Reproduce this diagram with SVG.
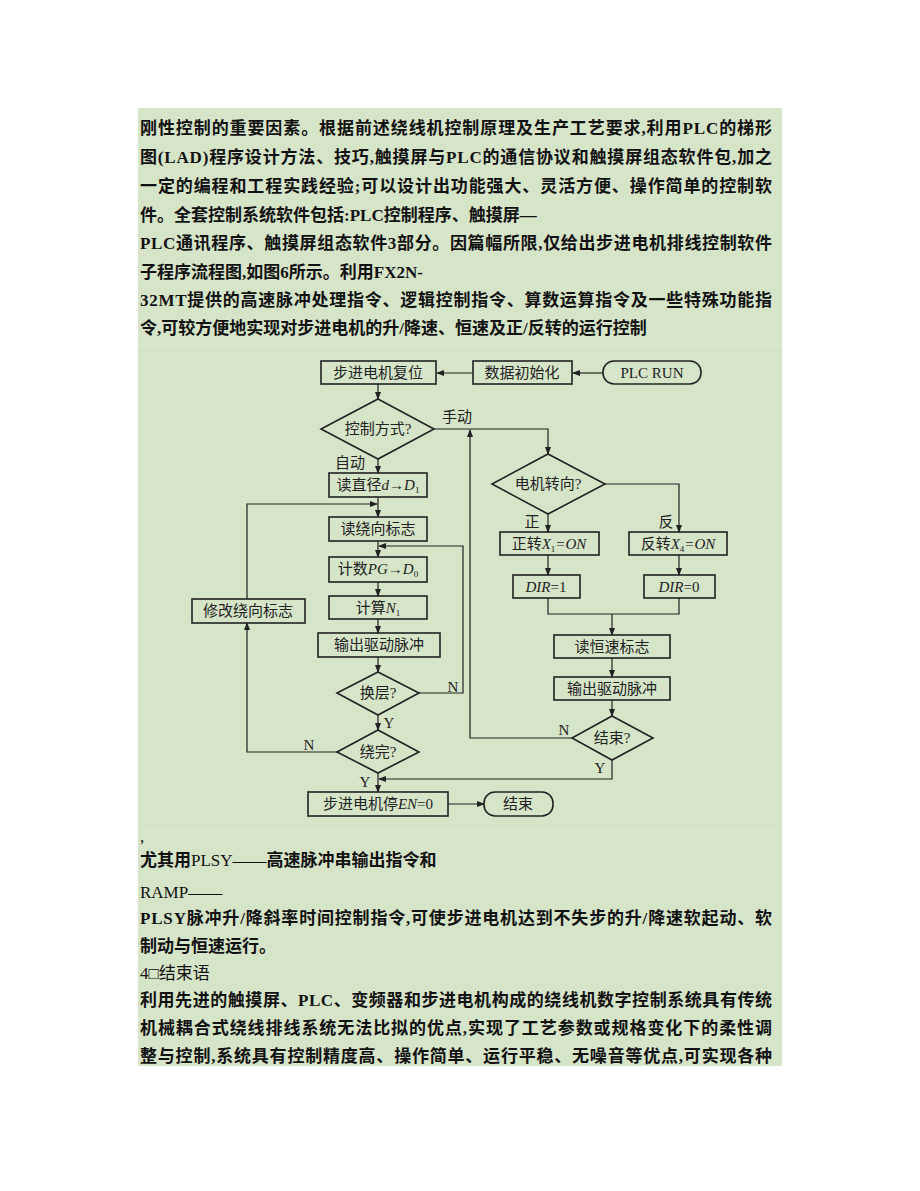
<svg xmlns="http://www.w3.org/2000/svg" width="920" height="1191" viewBox="0 0 920 1191">
<defs>
<marker id="ar" markerWidth="8" markerHeight="6" refX="7" refY="3" orient="auto" markerUnits="userSpaceOnUse"><path d="M0,0 L8,3 L0,6 Z" fill="#222"/></marker>
<style>
.p{font-family:"Liberation Serif","Noto Sans CJK SC",serif;font-size:17px;fill:#111;font-weight:bold}
.n{font-weight:normal}
.f{font-family:"Liberation Serif","Noto Sans CJK SC",serif;font-size:15px;fill:#222;text-anchor:middle}
.b{fill:none;stroke:#222;stroke-width:1.6}
.c{fill:none;stroke:#222;stroke-width:1.2}
</style>
</defs>
<rect width="920" height="1191" fill="#fff"/>
<rect x="138" y="108" width="644" height="958" fill="#d6e4c8"/>
<line x1="138" y1="345" x2="782" y2="345" stroke="#e0ead6"/>
<line x1="138" y1="830" x2="782" y2="830" stroke="#e0ead6"/>
<g id="text-top">
<text class="p" x="140" y="134" textLength="632">刚性控制的重要因素。根据前述绕线机控制原理及生产工艺要求,利用PLC的梯形</text>
<text class="p" x="140" y="163" textLength="632">图(LAD)程序设计方法、技巧,触摸屏与PLC的通信协议和触摸屏组态软件包,加之</text>
<text class="p" x="140" y="192" textLength="632">一定的编程和工程实践经验;可以设计出功能强大、灵活方便、操作简单的控制软</text>
<text class="p" x="140" y="221">件。全套控制系统软件包括:PLC控制程序、触摸屏—</text>
<text class="p" x="140" y="249" textLength="632">PLC通讯程序、触摸屏组态软件3部分。因篇幅所限,仅给出步进电机排线控制软件</text>
<text class="p" x="140" y="278">子程序流程图,如图6所示。利用FX2N-</text>
<text class="p" x="140" y="306" textLength="632">32MT提供的高速脉冲处理指令、逻辑控制指令、算数运算指令及一些特殊功能指</text>
<text class="p" x="140" y="334">令,可较方便地实现对步进电机的升/降速、恒速及正/反转的运行控制</text>
</g>
<g id="connectors">
<line class="c" x1="603" y1="373" x2="573" y2="373" marker-end="url(#ar)"/>
<line class="c" x1="473" y1="373" x2="437" y2="373" marker-end="url(#ar)"/>
<line class="c" x1="378" y1="384" x2="378" y2="399" marker-end="url(#ar)"/>
<line class="c" x1="378" y1="459" x2="378" y2="473" marker-end="url(#ar)"/>
<polyline class="c" points="434,429 548,429 548,454" marker-end="url(#ar)"/>
<line class="c" x1="378" y1="497" x2="378" y2="517" marker-end="url(#ar)"/>
<polyline class="c" points="247,599 247,504 377,504" marker-end="url(#ar)"/>
<line class="c" x1="378" y1="541" x2="378" y2="557" marker-end="url(#ar)"/>
<polyline class="c" points="419,693 463,693 463,546 379,546" marker-end="url(#ar)"/>
<line class="c" x1="378" y1="582" x2="378" y2="596" marker-end="url(#ar)"/>
<line class="c" x1="378" y1="619" x2="378" y2="633" marker-end="url(#ar)"/>
<line class="c" x1="378" y1="657" x2="378" y2="672" marker-end="url(#ar)"/>
<line class="c" x1="378" y1="715" x2="378" y2="730" marker-end="url(#ar)"/>
<polyline class="c" points="337,752 247,752 247,623" marker-end="url(#ar)"/>
<line class="c" x1="378" y1="773" x2="378" y2="792" marker-end="url(#ar)"/>
<line class="c" x1="448" y1="804" x2="484" y2="804" marker-end="url(#ar)"/>
<line class="c" x1="548" y1="514" x2="548" y2="532" marker-end="url(#ar)"/>
<polyline class="c" points="605,484 679,484 679,532" marker-end="url(#ar)"/>
<line class="c" x1="548" y1="555" x2="548" y2="575" marker-end="url(#ar)"/>
<line class="c" x1="679" y1="555" x2="679" y2="575" marker-end="url(#ar)"/>
<polyline class="c" points="548,598 548,614 679,614 679,598"/>
<line class="c" x1="612" y1="614" x2="612" y2="635" marker-end="url(#ar)"/>
<line class="c" x1="612" y1="658" x2="612" y2="677" marker-end="url(#ar)"/>
<line class="c" x1="612" y1="700" x2="612" y2="716" marker-end="url(#ar)"/>
<polyline class="c" points="572,738 470,738 470,430" marker-end="url(#ar)"/>
<polyline class="c" points="612,760 612,779 379,779" marker-end="url(#ar)"/>
</g>
<g id="flow-labels">
<text class="f" x="457" y="422">手动</text>
<text class="f" x="350" y="468">自动</text>
<text class="f" x="532" y="527">正</text>
<text class="f" x="666" y="527">反</text>
<text class="f" x="453" y="692">N</text>
<text class="f" x="389" y="728">Y</text>
<text class="f" x="309" y="750">N</text>
<text class="f" x="365" y="787">Y</text>
<text class="f" x="564" y="735">N</text>
<text class="f" x="600" y="773">Y</text>
</g>
<g id="n-reset"><rect class="b" x="321" y="361" width="115" height="23"/><text class="f" x="378" y="378">步进电机复位</text></g>
<g id="n-init"><rect class="b" x="473" y="361" width="99" height="23"/><text class="f" x="522" y="378">数据初始化</text></g>
<g id="n-run"><rect class="b" x="603" y="361" width="98" height="23" rx="11"/><text class="f" x="652" y="378">PLC  RUN</text></g>
<g id="n-mode"><polygon class="b" points="378,399 434,429 378,459 321,429"/><text class="f" x="378" y="434">控制方式?</text></g>
<g id="n-dia"><rect class="b" x="329" y="473" width="98" height="24"/><text class="f" x="378" y="490">读直径<tspan font-style="italic">d</tspan>→<tspan font-style="italic">D</tspan><tspan font-size="9" dy="3">1</tspan></text></g>
<g id="n-readflag"><rect class="b" x="329" y="517" width="98" height="24"/><text class="f" x="378" y="534">读绕向标志</text></g>
<g id="n-count"><rect class="b" x="329" y="557" width="98" height="25"/><text class="f" x="378" y="574">计数<tspan font-style="italic">PG</tspan>→<tspan font-style="italic">D</tspan><tspan font-size="9" dy="3">0</tspan></text></g>
<g id="n-calc"><rect class="b" x="329" y="596" width="98" height="23"/><text class="f" x="378" y="613">计算<tspan font-style="italic">N</tspan><tspan font-size="9" dy="3">1</tspan></text></g>
<g id="n-modflag"><rect class="b" x="192" y="599" width="113" height="24"/><text class="f" x="248" y="616">修改绕向标志</text></g>
<g id="n-out1"><rect class="b" x="318" y="633" width="122" height="24"/><text class="f" x="379" y="650">输出驱动脉冲</text></g>
<g id="n-layer"><polygon class="b" points="378,672 419,693 378,715 337,693"/><text class="f" x="378" y="698">换层?</text></g>
<g id="n-done"><polygon class="b" points="378,730 419,752 378,773 337,752"/><text class="f" x="378" y="757">绕完?</text></g>
<g id="n-stop"><rect class="b" x="308" y="792" width="140" height="24"/><text class="f" x="378" y="809">步进电机停<tspan font-style="italic">EN</tspan>=0</text></g>
<g id="n-end"><rect class="b" x="484" y="792" width="69" height="24" rx="11"/><text class="f" x="518" y="809">结束</text></g>
<g id="n-dir"><polygon class="b" points="548,454 605,484 548,514 492,484"/><text class="f" x="548" y="489">电机转向?</text></g>
<g id="n-fwd"><rect class="b" x="500" y="532" width="99" height="23"/><text class="f" x="549" y="549">正转<tspan font-style="italic">X</tspan><tspan font-size="9" dy="3">1</tspan><tspan dy="-3" font-style="italic">=ON</tspan></text></g>
<g id="n-rev"><rect class="b" x="629" y="532" width="98" height="23"/><text class="f" x="678" y="549">反转<tspan font-style="italic">X</tspan><tspan font-size="9" dy="3">4</tspan><tspan dy="-3" font-style="italic">=ON</tspan></text></g>
<g id="n-dir1"><rect class="b" x="513" y="575" width="67" height="23"/><text class="f" x="546" y="592"><tspan font-style="italic">DIR</tspan>=1</text></g>
<g id="n-dir0"><rect class="b" x="644" y="575" width="71" height="23"/><text class="f" x="679" y="592"><tspan font-style="italic">DIR</tspan>=0</text></g>
<g id="n-const"><rect class="b" x="554" y="635" width="116" height="23"/><text class="f" x="612" y="652">读恒速标志</text></g>
<g id="n-out2"><rect class="b" x="554" y="677" width="116" height="23"/><text class="f" x="612" y="694">输出驱动脉冲</text></g>
<g id="n-fin"><polygon class="b" points="612,716 653,738 612,760 572,738"/><text class="f" x="612" y="743">结束?</text></g>
<g id="text-bottom">
<text class="p n" x="140" y="842">,</text>
<text class="p" x="140" y="866">尤其用<tspan class="n">PLSY——</tspan>高速脉冲串输出指令和</text>
<text class="p n" x="140" y="898">RAMP——</text>
<text class="p" x="140" y="924" textLength="632">PLSY脉冲升/降斜率时间控制指令,可使步进电机达到不失步的升/降速软起动、软</text>
<text class="p" x="140" y="952">制动与恒速运行。</text>
<text class="p n" x="140" y="979">4□结束语</text>
<text class="p" x="140" y="1006" textLength="632">利用先进的触摸屏、PLC、变频器和步进电机构成的绕线机数字控制系统具有传统</text>
<text class="p" x="140" y="1034" textLength="632">机械耦合式绕线排线系统无法比拟的优点,实现了工艺参数或规格变化下的柔性调</text>
<text class="p" x="140" y="1062" textLength="632">整与控制,系统具有控制精度高、操作简单、运行平稳、无噪音等优点,可实现各种</text>
</g>
</svg>
